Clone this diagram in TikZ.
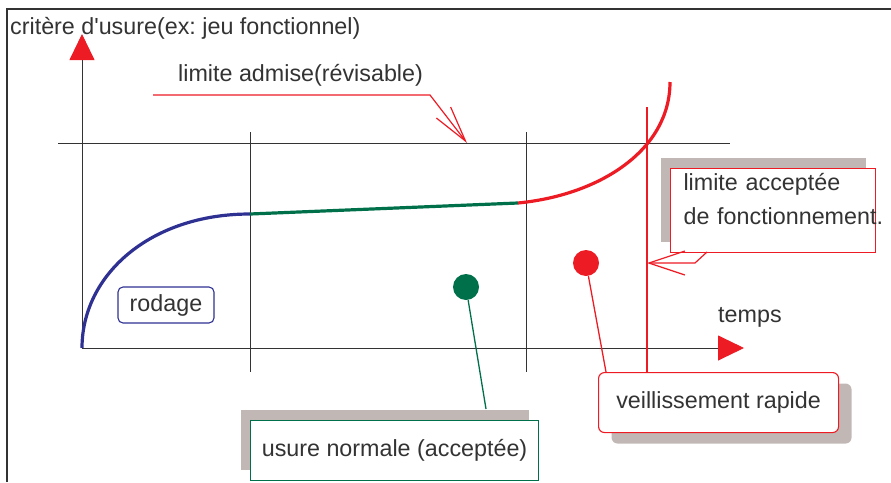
\documentclass[tikz,border=0pt]{standalone}
\usepackage{fontspec}
\setmainfont{Liberation Sans}
\usetikzlibrary{arrows.meta,shadows}
\definecolor{usred}{HTML}{ED1C24}
\definecolor{usgreen}{HTML}{00704A}
\definecolor{usblue}{HTML}{2E3192}
\definecolor{usgrey}{HTML}{C1B8B5}
\definecolor{ustext}{HTML}{333333}
\frenchspacing
\begin{document}
\begin{tikzpicture}[x=1pt,y=-1pt,
  font=\fontsize{23.3}{34}\selectfont, text=ustext,
  axis/.style={draw=ustext, line width=0.9pt, -{Triangle[length=26pt,width=25pt,color=usred]}},
  gridline/.style={draw=ustext, line width=0.7pt},
  wear/.style={line width=3.2pt},
  callout/.style={draw=usred, line width=1.2pt},
  dot/.style={circle, inner sep=0, minimum size=26pt},
  label/.style={inner sep=0, anchor=west},
  tagbox/.style={draw, line width=1.1pt, fill=white, inner sep=6pt}
]
\useasboundingbox (0,0) rectangle (891,482);
\draw[line width=2pt, ustext] (7,482) -- (7,9) -- (891,9);

\coordinate (O) at (82,348);
\coordinate (ytop) at (82,34);
\coordinate (xend) at (744,348);
\draw[axis] (O) -- (ytop);
\draw[axis] (O) -- (xend);
\draw[gridline] (58,143) -- (730,143);
\draw[gridline] (250,132) -- (250,372);
\draw[gridline] (526,132) -- (526,372);

\node[label] (yname) at (10,28) {critère d\textquotesingle usure(ex: jeu fonctionnel)};
\node[label] (xname) at (718,317) {temps};

\coordinate (bend1) at (250,214);
\coordinate (bend2) at (518,203);
\coordinate (wtop) at (670,82);
\draw[wear, usblue] (O) .. controls (82,275) and (150,214) .. (bend1);
\draw[wear, usgreen] (bend1) -- (bend2);
\draw[wear, usred] (bend2) .. controls (600,195) and (670,150) .. (wtop);

\node[label] (adm) at (178,75) {limite admise(révisable)};
\coordinate (admL) at (153,95);
\coordinate (admK) at (430,95);
\coordinate (admtip) at (467,143);
\draw[callout, -{Straight Barb[length=36pt,width=18pt]}] (admL) -- (admK) -- (admtip);

\node[tagbox, draw=usblue, rounded corners=5pt, minimum width=96pt, minimum height=36pt, inner sep=0] (rod) at (166,305) {rodage};

\node[tagbox, draw=usred, anchor=north west, text width=179pt, inner xsep=13pt, inner ysep=5pt, align=left,
  drop shadow={shadow xshift=-10pt, shadow yshift=11pt, fill=usgrey, opacity=1}] (accept) at (670,168)
  {limite acceptée\\\mbox{de fonctionnement.}\rule[-23pt]{0pt}{0pt}};
\coordinate (ltop) at (647,107);
\coordinate (acc1) at (707,252);
\coordinate (acc2) at (695,263);
\coordinate (acctip) at (647,263);

\node[tagbox, draw=usgreen, anchor=north west, minimum width=288pt, minimum height=60pt, inner xsep=8pt,
  drop shadow={shadow xshift=-10pt, shadow yshift=11pt, fill=usgrey, opacity=1}] (normal) at (250,420)
  {usure normale (acceptée)};
\node[tagbox, draw=usred, rounded corners=6pt, anchor=north west, minimum width=240pt, minimum height=60pt,
  drop shadow={shadow xshift=13pt, shadow yshift=-11pt, fill=usgrey, opacity=1}] (rapid) at (598,372)
  {veillissement rapide};

\draw[usred, line width=1.3pt] (ltop) -- (rapid.north -| ltop);
\draw[callout, -{Straight Barb[length=36pt,width=24pt]}] (acc1) -- (acc2) -- (acctip);

\node[dot, fill=usgreen] (gdot) at (466,287) {};
\node[dot, fill=usred] (rdot) at (586,263) {};
\coordinate (gfoot) at (486,409);
\coordinate (rfoot) at (606,372);
\draw[usgreen, line width=1.3pt] (gdot) -- (gfoot);
\draw[usred, line width=1.3pt] (rdot) -- (rfoot);
\end{tikzpicture}
\end{document}
